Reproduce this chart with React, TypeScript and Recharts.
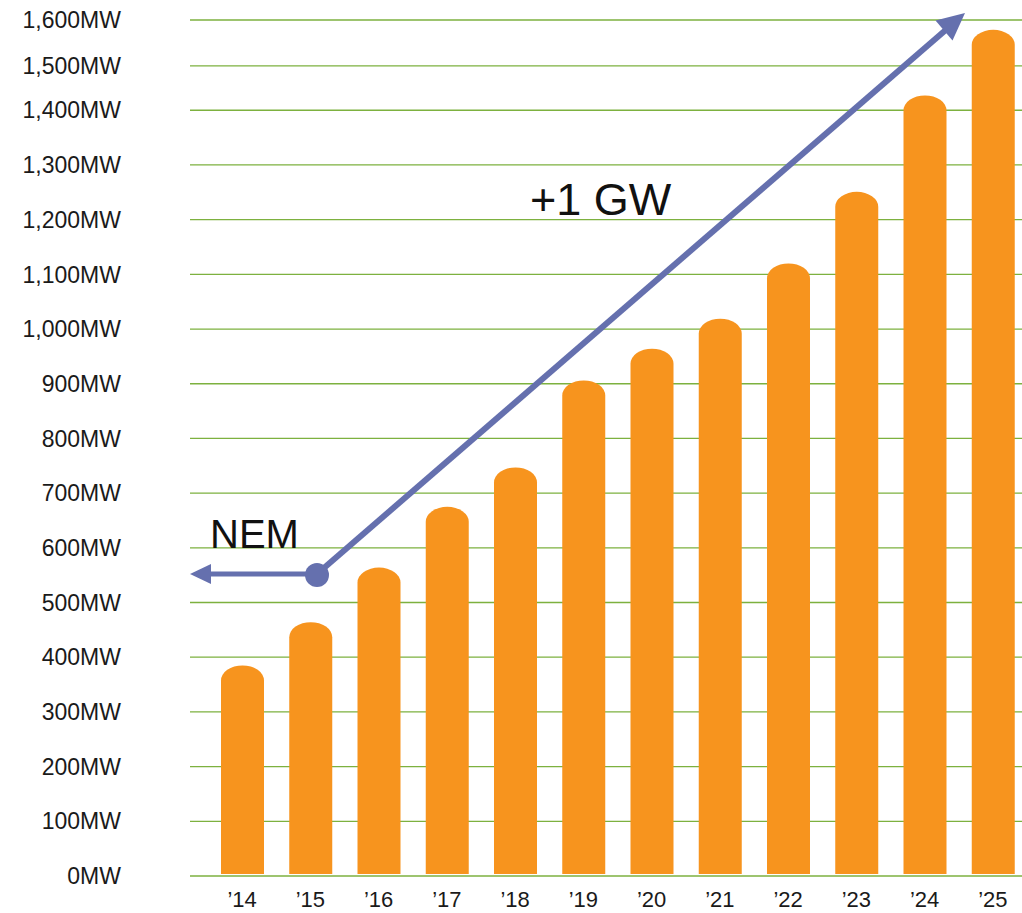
import { BarChart, Bar, XAxis, YAxis, CartesianGrid } from 'recharts'

// yearly installed capacity (MW)
const years = ['’14', '’15', '’16', '’17', '’18', '’19', '’20', '’21', '’22', '’23', '’24', '’25']
const capacity = [385, 464, 564, 675, 747, 906, 964, 1019, 1120, 1251, 1427, 1547]

// the source axis squeezes the top two gridlines, so tick positions and labels are kept apart
const yTicks = [0, 100, 200, 300, 400, 500, 600, 700, 800, 900, 1000, 1100, 1200, 1300, 1400, 1481, 1565]
const yTickLabels = [
  '0MW', '100MW', '200MW', '300MW', '400MW', '500MW', '600MW', '700MW', '800MW',
  '900MW', '1,000MW', '1,100MW', '1,200MW', '1,300MW', '1,400MW', '1,500MW', '1,600MW',
]

const data = years.map((year, i) => ({ year, mw: capacity[i] }))

const ORANGE = '#F7941E'
const GRID = '#7DB13F'
const ARROW = '#6570AE'
const FONT = 'Arial, "Liberation Sans", sans-serif'

function CapBar(props: any) {
  const { x, y, width, height } = props
  if (!height || height <= 0) return null
  const rx = width / 2
  const ry = 15
  const bottom = y + height - 2
  const d = `M${x},${bottom} L${x},${y + ry} A${rx},${ry} 0 0 1 ${x + width},${y + ry} L${x + width},${bottom} Z`
  return <path d={d} fill={ORANGE} />
}

function Annotations() {
  return (
    <svg
      width={1022}
      height={913}
      style={{ position: 'absolute', left: 0, top: 0, pointerEvents: 'none' }}
    >
      <text x={210} y={548} fontSize={40} fontFamily={FONT} fill="#111">
        NEM
      </text>
      <text x={530} y={215} fontSize={45} fontFamily={FONT} fill="#111">
        +1 GW
      </text>
      {/* horizontal arrow to the left */}
      <line x1={317} y1={574} x2={206} y2={574} stroke={ARROW} strokeWidth={5} />
      <polygon points="190,574 211,564 211,584" fill={ARROW} />
      {/* diagonal arrow */}
      <line x1={317} y1={574} x2={948} y2={28} stroke={ARROW} strokeWidth={6} />
      <polygon points="965,13 952.5,40.5 935.5,20.5" fill={ARROW} />
      <circle cx={317} cy={575} r={12} fill={ARROW} />
    </svg>
  )
}

export default function App() {
  return (
    <div
      style={{
        position: 'absolute',
        left: 0,
        top: 0,
        width: 1022,
        height: 913,
        overflow: 'hidden',
        background: '#fff',
      }}
    >
      <BarChart
        width={1027}
        height={913}
        data={data}
        margin={{ top: 20, right: 0, bottom: 0, left: 0 }}
        barCategoryGap={0}
      >
        <CartesianGrid vertical={false} stroke={GRID} strokeWidth={1.3} />
        <XAxis
          dataKey="year"
          height={37}
          axisLine={false}
          tickLine={false}
          tickSize={0}
          tickMargin={15}
          padding={{ left: 18, right: 0 }}
          interval={0}
          tick={{ fontSize: 22, fill: '#1a1a1a', fontFamily: FONT }}
        />
        <YAxis
          width={190}
          domain={[0, 1565]}
          ticks={yTicks}
          interval={0}
          axisLine={false}
          tickLine={false}
          tickSize={0}
          tickMargin={69}
          tickFormatter={(v: number) => yTickLabels[yTicks.indexOf(v)]}
          tick={{ fontSize: 23, fill: '#1a1a1a', fontFamily: FONT }}
        />
        <Bar dataKey="mw" barSize={43} shape={<CapBar />} isAnimationActive={false} />
      </BarChart>
      <Annotations />
    </div>
  )
}
